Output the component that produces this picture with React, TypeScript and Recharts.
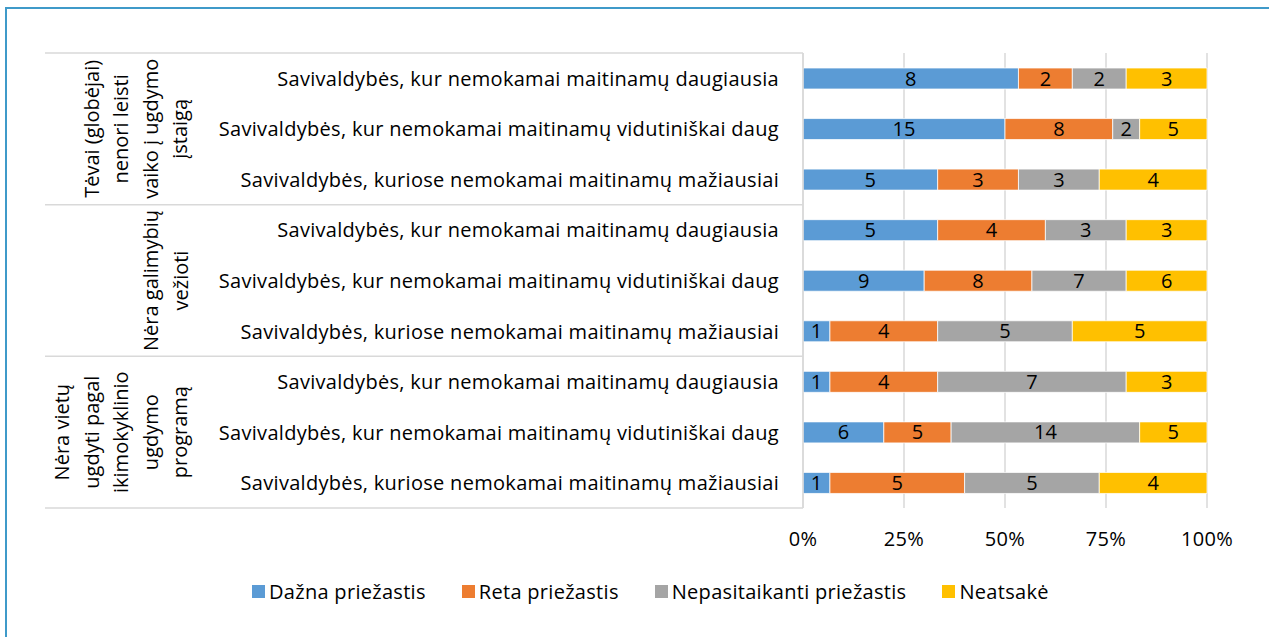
import React from 'react';
import {
  BarChart, Bar, XAxis, YAxis, CartesianGrid, Legend, LabelList
} from 'recharts';

const rowLabels = [
  'Savivaldybės, kur nemokamai maitinamų daugiausia',
  'Savivaldybės, kur nemokamai maitinamų vidutiniškai daug',
  'Savivaldybės, kuriose nemokamai maitinamų mažiausiai',
  'Savivaldybės, kur nemokamai maitinamų daugiausia',
  'Savivaldybės, kur nemokamai maitinamų vidutiniškai daug',
  'Savivaldybės, kuriose nemokamai maitinamų mažiausiai',
  'Savivaldybės, kur nemokamai maitinamų daugiausia',
  'Savivaldybės, kur nemokamai maitinamų vidutiniškai daug',
  'Savivaldybės, kuriose nemokamai maitinamų mažiausiai',
];

const groupLines = [
  ['Tėvai (globėjai)', 'nenori leisti', 'vaiko į ugdymo', 'įstaigą'],
  ['Nėra galimybių', 'vežioti'],
  ['Nėra vietų', 'ugdyti pagal', 'ikimokyklinio', 'ugdymo', 'programą'],
];

const dazna = [8, 15, 5, 5, 9, 1, 1, 6, 1];
const reta = [2, 8, 3, 4, 8, 4, 4, 5, 5];
const nepasitaikanti = [2, 2, 3, 3, 7, 5, 7, 14, 5];
const neatsake = [3, 5, 4, 3, 6, 5, 3, 5, 4];

const seriesNames = ['Dažna priežastis', 'Reta priežastis', 'Nepasitaikanti priežastis', 'Neatsakė'];
const seriesKeys = ['dazna', 'reta', 'nepasitaikanti', 'neatsake'];
const colors = ['#5b9bd5', '#ed7d31', '#a5a5a5', '#ffc000'];
const xTicks = [0, 0.25, 0.5, 0.75, 1];

const FONT = '"Open Sans", sans-serif';
const FS = 20;
const LS = 0.3;
const PLOT_TOP = 53;
const PLOT_H = 455;
const ROW_H = PLOT_H / rowLabels.length;

const data = rowLabels.map((label, i) => ({
  id: i,
  label,
  dazna: dazna[i],
  reta: reta[i],
  nepasitaikanti: nepasitaikanti[i],
  neatsake: neatsake[i],
}));

const CategoryTick = (props: any) => {
  const { x, y, payload } = props;
  const i = payload.index;
  const lineLeft = x - 750;
  const lineRight = x + 8;
  const group = Math.floor(i / 3);
  const lines = groupLines[group];
  return (
    <g>
      <text x={x - 16} y={y} textAnchor="end" dominantBaseline="central" letterSpacing={LS}
        fontFamily={FONT} fontSize={FS} fill="#000">{rowLabels[i]}</text>
      {i % 3 === 0 && (
        <line x1={lineLeft} x2={lineRight} y1={y - ROW_H / 2} y2={y - ROW_H / 2} stroke="#d9d9d9" strokeWidth={1.5} />
      )}
      {i === rowLabels.length - 1 && (
        <line x1={lineLeft} x2={lineRight} y1={y + ROW_H / 2} y2={y + ROW_H / 2} stroke="#d9d9d9" strokeWidth={1.5} />
      )}
      {i % 3 === 1 && lines.map((t, k) => {
        const cx = x - 615 - (lines.length - 1 - k) * 29.5;
        return (
          <text key={k} x={cx} y={y} transform={`rotate(-90, ${cx}, ${y})`} textAnchor="middle"
            dominantBaseline="central" fontFamily={FONT} fontSize={FS} fill="#000">{t}</text>
        );
      })}
    </g>
  );
};

const LegendContent = () => (
  <div style={{ height: 0, overflow: 'visible' }}>
    <div style={{ display: 'flex', fontFamily: FONT, fontSize: FS, letterSpacing: LS, color: '#000', whiteSpace: 'nowrap' }}>
      {seriesNames.map((n, i) => (
        <div key={n} style={{ display: 'flex', alignItems: 'center', marginRight: 36 }}>
          <span style={{ width: 13, height: 13, background: colors[i], display: 'inline-block', marginRight: 4 }} />
          <span>{n}</span>
        </div>
      ))}
    </div>
  </div>
);

export default function App() {
  return (
    <div style={{ position: 'absolute', left: 0, top: 0, width: 1269, height: 637, overflow: 'hidden', background: '#fff' }}>
      <div style={{
        position: 'absolute', left: 5, top: 7, width: 1300, height: 700,
        borderTop: '2px solid #3f9ac9', borderLeft: '2px solid #3f9ac9',
      }} />
      <div style={{ position: 'absolute', left: 0, top: 0 }}>
        <BarChart
          width={1269}
          height={637}
          data={data}
          layout="vertical"
          stackOffset="expand"
          barSize={21}
          margin={{ top: PLOT_TOP, right: 62, left: 45, bottom: 637 - PLOT_TOP - PLOT_H - 30 }}
        >
          <CartesianGrid horizontal={false} stroke="#d9d9d9" strokeWidth={1.5} />
          <XAxis type="number" domain={[0, 1]} ticks={xTicks} axisLine={false} tickLine={false}
            tickMargin={18} height={30} interval={0}
            tickFormatter={(v: number) => `${Math.round(v * 100)}%`}
            tick={{ fill: '#000', fontSize: FS, fontFamily: FONT, letterSpacing: LS }} />
          <YAxis type="category" dataKey="id" width={758} axisLine={{ stroke: '#d9d9d9', strokeWidth: 1.5 }}
            tickLine={false} interval={0} tick={<CategoryTick />} />
          <Legend verticalAlign="bottom" wrapperStyle={{ left: 252, top: 578, width: 'auto' }} content={<LegendContent />} />
          {seriesKeys.map((k, i) => (
            <Bar key={k} dataKey={k} name={seriesNames[i]} stackId="a" fill={colors[i]}
              stroke="#ffffff" strokeWidth={0.75} isAnimationActive={false}>
              <LabelList dataKey={k} position="center" fill="#000" fontSize={FS} fontFamily={FONT} />
            </Bar>
          ))}
        </BarChart>
      </div>
    </div>
  );
}
